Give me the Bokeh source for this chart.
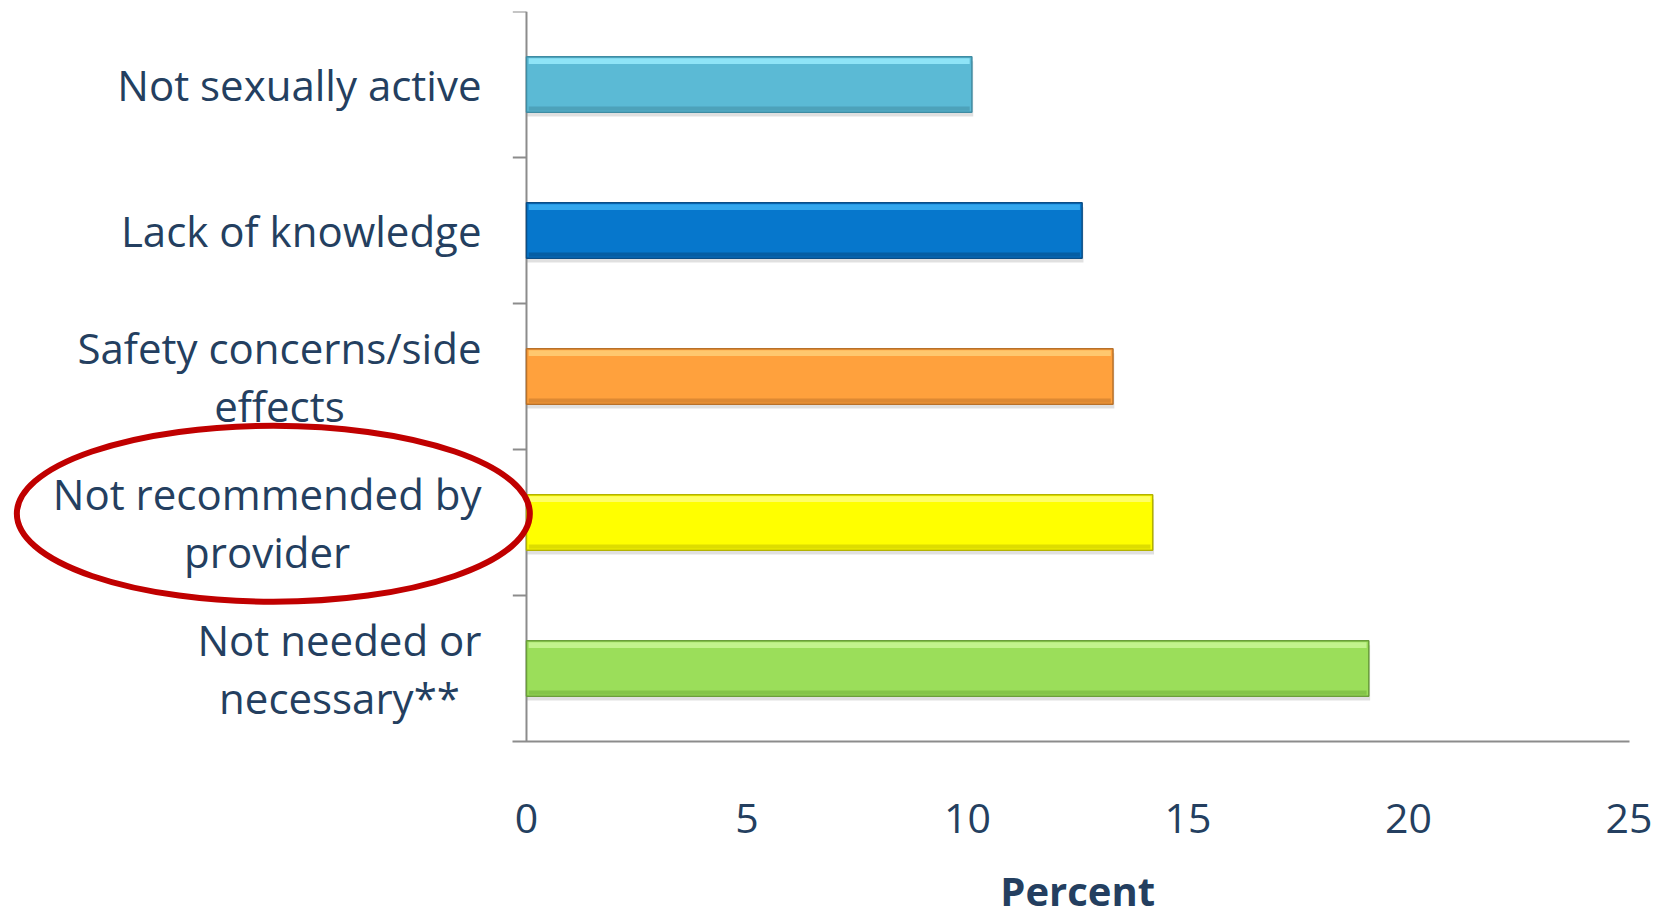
from bokeh.plotting import figure
from bokeh.models import Range1d, FixedTicker, LinearAxis, Label
from bokeh.embed import file_html
from bokeh.resources import INLINE
from bokeh.core.properties import value

# ---- data ----
categories = [
    "Not sexually active",
    "Lack of knowledge",
    "Safety concerns/side\neffects",
    "Not recommended by\nprovider",
    "Not needed or\nnecessary**",
]
percent = [10.1, 12.6, 13.3, 14.2, 19.1]
bar_colors = ["#5BBAD5", "#0677CC", "#FFA13D", "#FFFF00", "#9BDE5A"]
edge_colors = ["#3F8CA3", "#0A4D86", "#B8712A", "#B3B200", "#6A9E3A"]
top_colors = ["#9BEFFF", "#3DB2F5", "#FFD27A", "#FFFF80", "#CCF79A"]
bottom_colors = ["#4A9CB3", "#05589A", "#D48331", "#D4D400", "#7DBD44"]
x_ticks = [0, 5, 10, 15, 20, 25]
highlighted = "Not recommended by\nprovider"
axis_title = "Percent"

TEXT = "#243F60"
GRAY = "#8C8C8C"
FONT = "Open Sans"

n = len(categories)
ypos = [n - i - 0.5 for i in range(n)]
bar_h = 0.38
unit_px = 146.0          # pixels per category band
bottom_px = 176          # room below the value axis

p = figure(
    width=1667, height=917,
    x_range=Range1d(-11.927, 25.873), y_range=Range1d(-bottom_px / unit_px, n),
    x_axis_type=None, y_axis_type=None,
    toolbar_location=None, output_backend="svg",
    min_border_left=0, min_border_right=0, min_border_top=11, min_border_bottom=0,
    outline_line_color=None, background_fill_color="white",
)

# x axis, drawn at y = 0
xaxis = LinearAxis(ticker=FixedTicker(ticks=x_ticks), bounds=(-0.31, x_ticks[-1]), fixed_location=0)
xaxis.axis_line_color = GRAY
xaxis.axis_line_width = 2
xaxis.major_tick_line_color = None
xaxis.minor_tick_line_color = None
xaxis.major_label_text_font = FONT
xaxis.major_label_text_font_size = "41px"
xaxis.major_label_text_color = TEXT
xaxis.major_label_standoff = 56
p.add_layout(xaxis, "below")

# axis title, centred under the 0..25 span
p.add_layout(Label(x=(x_ticks[0] + x_ticks[-1]) / 2, y=-149 / unit_px, text=axis_title,
                   text_align="center", text_baseline="middle",
                   text_font=FONT, text_font_size="40px", text_font_style="bold",
                   text_color=TEXT))

# y axis line and ticks
p.segment(x0=[0], y0=[0], x1=[0], y1=[n], line_color=GRAY, line_width=2)
p.segment(x0=[-0.31] * n, y0=list(range(1, n + 1)), x1=[0] * n, y1=list(range(1, n + 1)),
          line_color=GRAY, line_width=2)

# shadows
p.hbar(y=[y - 0.03 for y in ypos], left=0.02, right=[v + 0.03 for v in percent], height=bar_h,
       fill_color="#000000", fill_alpha=0.12, line_color=None)
# bars
p.hbar(y=ypos, left=0, right=percent, height=bar_h,
       fill_color=bar_colors, line_color=edge_colors, line_width=1.5)
# bevel highlights
p.hbar(y=[y + bar_h / 2 - 0.03 for y in ypos], left=0.05, right=[v - 0.05 for v in percent],
       height=0.04, fill_color=top_colors, fill_alpha=0.8, line_color=None)
p.hbar(y=[y - bar_h / 2 + 0.025 for y in ypos], left=0.05, right=[v - 0.05 for v in percent],
       height=0.03, fill_color=bottom_colors, fill_alpha=0.8, line_color=None)

# category labels
p.text(x=[0] * n, y=ypos, text=categories, x_offset=-45,
       anchor="center_right", text_align="center", text_baseline="middle",
       text_font=value(FONT), text_font_size="42px", text_color=TEXT,
       text_line_height=1.02)

# highlight ellipse
hi = categories.index(highlighted)
p.ellipse(x=[-5.74], y=[ypos[hi] + 0.06], width=513, height=176,
          width_units="screen", height_units="screen",
          fill_color=None, line_color="#C00000", line_width=6)

open("out.html", "w").write(file_html(p, INLINE))
